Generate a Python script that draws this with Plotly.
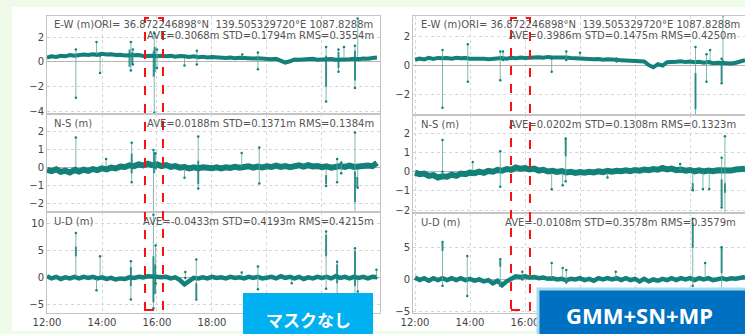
import plotly.graph_objects as go

W, H = 745, 334

# ---------------- data (hours of day, metres) ----------------
time_h = [12 + i / 6 for i in range(73)]  # 10-minute sampling 12:00-24:00

ew_left = [0.35,0.45,0.40,0.50,0.45,0.55,0.50, 0.55,0.60,0.55,0.62,0.58,0.65,
           0.60,0.62,0.55,0.58,0.52,0.55, 0.50,0.55,0.48,0.52,0.50,0.45,
           0.50,0.45,0.50,0.42,0.48,0.45, 0.40,0.45,0.38,0.42,0.35,0.40,
           0.35,0.38,0.32,0.36,0.30,0.34, 0.30,0.33,0.28,0.30,0.25,0.28,
           0.22,0.25,0.10,-0.05,0.05,0.20, 0.18,0.22,0.20,0.25,0.18,0.22,
           0.20,0.24,0.18,0.22,0.26,0.22, 0.25,0.22,0.28,0.25,0.32,0.35]
ew_right = [0.42,0.50,0.45,0.55,0.48,0.55,0.52, 0.55,0.50,0.56,0.52,0.55,0.50,
            0.52,0.48,0.50,0.46,0.50,0.52, 0.55,0.50,0.56,0.52,0.58,0.55,
            0.58,0.55,0.60,0.56,0.62,0.58, 0.60,0.56,0.58,0.55,0.52,0.55,
            0.50,0.48,0.45,0.48,0.42,0.45, 0.40,0.42,0.38,0.36,0.32,0.35,
            0.28,0.30,0.05,-0.10,0.12,0.02, 0.25,0.30,0.28,0.32,0.26,0.30,
            0.25,0.28,0.22,0.26,0.18,0.22, 0.18,0.20,0.16,0.22,0.30,0.40]
ns_left = [-0.10,-0.18,-0.08,-0.22,-0.15,-0.25,-0.12, -0.20,-0.10,-0.16,-0.06,-0.12,-0.02,
           -0.08,0.02,-0.03,0.08,0.05,0.15, 0.10,0.20,0.14,0.24,0.15,0.20,
           0.10,0.16,0.06,0.10,0.02,0.05, -0.02,0.04,-0.03,0.04,0.00,-0.02,
           0.04,-0.02,0.04,0.00,0.06,0.01, 0.05,0.09,0.02,0.08,0.03,0.09,
           0.05,0.13,0.06,0.11,0.04,0.10, 0.14,0.07,0.15,0.08,0.11,0.04,
           0.09,0.02,0.08,0.11,0.06,0.13, 0.06,0.11,0.08,0.13,0.10,0.28]
ns_right = [-0.05,-0.13,-0.10,-0.22,-0.18,-0.30,-0.24, -0.26,-0.15,-0.22,-0.10,-0.13,-0.05,
            -0.08,0.00,-0.06,0.04,0.00,0.09, 0.05,0.14,0.10,0.22,0.15,0.19,
            0.12,0.16,0.06,0.10,0.01,0.05, -0.01,0.03,-0.04,0.00,-0.06,-0.02,
            -0.05,0.00,-0.04,0.02,-0.02,0.04, 0.00,0.05,0.02,0.07,0.03,0.09,
            0.05,0.11,0.08,0.14,0.10,0.20, 0.12,0.16,0.08,0.11,0.05,0.09,
            0.02,0.07,0.01,0.06,0.02,0.07, 0.05,0.09,0.06,0.11,0.10,0.15]
ud_left = [0.3,-0.1,0.2,-0.2,0.1,-0.1,0.2, -0.1,0.2,0.0,0.2,-0.1,0.1,
           -0.2,0.0,-0.3,-0.1,-0.2,0.1, 0.0,0.2,0.1,0.3,0.2,0.3,
           0.1,0.2,-0.1,0.1,-0.4,-1.2, -0.6,0.0,-0.1,0.1,-0.1,0.2,
           0.0,0.1,-0.1,0.2,0.0,0.1, -0.1,0.2,0.0,0.2,-0.1,0.1,
           0.2,-0.1,0.3,0.0,0.2,-0.1, 0.2,-0.2,0.1,-0.1,0.2,0.0,
           0.2,-0.1,0.3,0.0,0.2,-0.1, 0.2,0.0,0.2,-0.1,0.2,0.1]
ud_right = [0.3,-0.1,0.2,-0.2,0.2,-0.1,0.2, -0.1,0.2,-0.1,0.2,-0.1,0.1,
            -0.2,0.0,-0.3,-0.1,-0.6,-0.2, -0.9,-0.3,0.2,0.5,0.4,0.5,
            0.3,0.4,0.2,0.3,0.1,0.2, 0.0,0.1,-0.1,0.1,0.0,0.2,
            -0.1,0.1,-0.2,0.2,0.0,0.2, 0.0,0.2,-0.1,0.2,-0.1,0.1,
            -0.3,0.1,-0.3,0.0,-0.2,0.1, -0.1,0.2,-0.1,0.2,0.0,0.2,
            -0.1,0.2,0.0,0.2,-0.1,0.1, 0.2,0.0,0.2,0.1,0.3,0.4]

# outlier spikes: (time, low, high)
ew_left_spk = [(13.05,-2.9,1.0),(13.8,0.5,1.6),(13.93,-0.9,0.5),(15.05,-0.7,1.6),(15.12,-0.2,1.0),
               (15.9,-4.1,2.3),(16.0,-0.5,1.0),(17.0,-0.3,0.4),(17.45,-0.2,0.9),(19.1,0.3,0.6),
               (19.67,-0.6,0.75),(22.15,-3.2,1.2),(22.6,-0.8,1.0),(22.8,0.2,1.2),(23.2,-2.1,1.3),(23.3,0.3,3.5)]
ew_left_cl = [(15.0,-0.4,1.0),(15.1,-0.2,0.8),(15.88,-1.2,0.9),(15.92,-0.8,1.2),(22.15,-2.0,0.5),
              (22.6,-0.5,0.8),(23.2,-1.5,0.9)]
ew_right_spk = [(13.0,-2.9,1.1),(13.92,-1.1,1.5),(15.1,-1.0,1.0),(15.2,0.4,1.0),(16.97,-0.4,0.5),
                (17.5,0.4,1.0),(18.0,0.5,0.9),(19.33,0.3,0.5),(22.2,-3.4,1.3),(22.6,-1.1,0.8),
                (22.73,0.3,1.1),(23.15,-1.2,0.5),(23.2,0.3,3.5)]
ew_right_cl = [(22.2,-3.0,-0.5),(23.15,-1.1,0.3)]
ns_left_spk = [(13.05,0.0,1.7),(14.15,0.0,0.5),(15.08,-0.8,1.4),(15.87,-2.6,1.0),(15.95,0.0,0.8),
               (17.0,-0.55,0.0),(17.5,-1.15,1.75),(19.08,0.0,0.83),(19.72,-0.87,1.14),(22.15,-1.0,0.0),
               (22.55,-0.8,0.5),(22.7,-0.3,0.3),(23.2,-2.5,1.97),(23.3,-1.1,0.0)]
ns_left_cl = [(15.08,-0.3,0.8),(15.9,-0.3,0.9),(17.5,-0.9,0.4),(22.15,-0.9,-0.4),(23.2,-1.9,-0.2),
              (23.28,-1.1,-0.5)]
ns_right_spk = [(13.0,0.0,1.65),(14.1,0.0,0.5),(15.1,-0.78,1.07),(16.97,-0.92,0.0),(17.37,-0.7,0.0),
                (17.48,-0.5,1.73),(19.0,-0.3,0.0),(21.64,0.0,0.4),(22.1,-0.97,0.0),(22.47,-0.9,0.0),
                (22.7,-0.9,0.0),(23.15,-1.87,0.73),(23.27,-2.2,1.85)]
ns_right_cl = [(17.48,0.8,1.7),(22.1,-1.0,-0.6),(23.15,-1.8,-0.4),(23.27,-1.1,-0.6)]
ud_left_spk = [(13.05,0.0,8.3),(13.8,-2.3,0.0),(13.93,0.0,4.0),(15.05,-4.0,3.1),(15.87,-5.6,11.7),
               (15.95,-1.0,6.0),(17.03,0.0,1.1),(17.43,-4.0,3.4),(19.08,0.0,1.0),(19.67,-2.1,2.1),
               (20.9,-1.0,0.0),(22.15,-2.0,8.6),(22.55,-3.4,3.0),(23.2,-4.0,5.5),(23.3,-2.5,0.0),
               (23.98,0.0,1.5)]
ud_left_cl = [(13.05,4.0,5.8),(15.05,-1.5,2.0),(15.87,-4.5,4.0),(15.93,-3.0,2.5),(17.43,-3.8,-1.0),
              (22.15,4.0,8.0),(22.55,-1.0,2.5),(23.2,-1.5,5.0)]
ud_right_spk = [(13.0,-1.0,5.9),(13.9,-2.6,3.7),(15.1,-1.0,3.2),(15.9,0.0,1.2),(16.97,0.0,2.6),
                (17.37,0.0,1.8),(17.5,-0.5,1.5),(19.3,0.0,1.2),(22.1,-1.0,9.6),(22.55,0.0,2.6),
                (23.15,-2.0,5.1)]
ud_right_cl = [(13.0,4.5,5.8),(15.1,2.0,3.0),(22.1,5.0,9.0),(23.15,1.0,5.0)]

x_ticks = [12, 14, 16, 18, 20, 22]
x_tick_text_left = ["12:00", "14:00", "16:00", "18:00", "", ""]
x_tick_text_right = ["12:00", "14:00", "16:00", "", "", ""]

ORI_TEXT = "ORI= 36.872246898°N\u00a0 139.505329720°E 1087.8288m"
stats_left = ["AVE=0.3068m STD=0.1794m RMS=0.3554m",
              "AVE=0.0188m STD=0.1371m RMS=0.1384m",
              "AVE=-0.0433m STD=0.4193m RMS=0.4215m"]
stats_right = ["AVE=0.3986m STD=0.1475m RMS=0.4250m",
               "AVE=0.0202m STD=0.1308m RMS=0.1323m",
               "AVE=-0.0108m STD=0.3578m RMS=0.3579m"]
comp_names = ["E-W (m)", "N-S (m)", "U-D (m)"]

# ---------------- layout helpers ----------------
def px(x):
    return x / W

def py(y):
    return 1 - y / H

TEAL = "#13807a"
FONT = "DejaVu Sans"
BAND_W = [4.0, 6.0, 4.5]

panels = [
    dict(series=[ew_left, ns_left, ud_left],
         spikes=[ew_left_spk, ns_left_spk, ud_left_spk],
         clusters=[ew_left_cl, ns_left_cl, ud_left_cl],
         xdom=[px(47), px(380)], xrange=[12, 24.11], ticktext=x_tick_text_left,
         ydoms=[(16, 114), (114, 212), (212, 313)],
         yranges=[[-4.2, 3.7], [-2.45, 3.0], [-6.5, 12.2]],
         yticks=[[-4, -2, 0, 2], [-2, -1, 0, 1, 2], [-5, 0, 5, 10]],
         stats=stats_left, lx=52, rx=378),
    dict(series=[ew_right, ns_right, ud_right],
         spikes=[ew_right_spk, ns_right_spk, ud_right_spk],
         clusters=[ew_right_cl, ns_right_cl, ud_right_cl],
         xdom=[px(413), 1.0], xrange=[11.927, 24.0], ticktext=x_tick_text_right,
         ydoms=[(16, 115), (115, 213), (213, 313)],
         yranges=[[-3.4, 3.45], [-2.15, 2.95], [-5.3, 10.5]],
         yticks=[[-2, 0, 2], [-2, -1, 0, 1, 2], [-5, 0, 5]],
         stats=stats_right, lx=419, rx=740),
]

fig = go.Figure()
layout = dict(
    width=W, height=H, margin=dict(l=0, r=0, t=0, b=0, pad=0, autoexpand=False),
    paper_bgcolor="#eefbe9", plot_bgcolor="white", showlegend=False,
    font=dict(family=FONT, size=10, color="#444"),
)
annotations = []
shapes = [
    dict(type="rect", xref="paper", yref="paper", x0=px(12), x1=1.0, y0=py(331), y1=py(7),
         fillcolor="white", line=dict(width=0), layer="below"),
]

k = 0
for p in panels:
    for j in range(3):
        k += 1
        xa = "x" if k == 1 else f"x{k}"
        ya = "y" if k == 1 else f"y{k}"
        # baseline band
        fig.add_trace(go.Scatter(x=time_h, y=p["series"][j], mode="lines", xaxis=xa, yaxis=ya,
                                 line=dict(color=TEAL, width=BAND_W[j]), hoverinfo="skip"))
        # spikes
        sx, sy = [], []
        for t, lo, hi in p["spikes"][j]:
            sx += [t, t, None]
            sy += [lo, hi, None]
        fig.add_trace(go.Scatter(x=sx, y=sy, mode="lines+markers", xaxis=xa, yaxis=ya,
                                 line=dict(color="#5aa8a0", width=0.8),
                                 marker=dict(size=2.5, color=TEAL), hoverinfo="skip"))
        cx, cy = [], []
        for t, lo, hi in p["clusters"][j]:
            cx += [t, t, None]
            cy += [lo, hi, None]
        fig.add_trace(go.Scatter(x=cx, y=cy, mode="lines", xaxis=xa, yaxis=ya,
                                 line=dict(color=TEAL, width=2), opacity=0.8, hoverinfo="skip"))

        top, bot = p["ydoms"][j]
        xkey = "xaxis" if k == 1 else f"xaxis{k}"
        ykey = "yaxis" if k == 1 else f"yaxis{k}"
        layout[xkey] = dict(domain=p["xdom"], range=p["xrange"], anchor=ya, automargin=False,
                            tickvals=x_ticks, ticktext=p["ticktext"],
                            showticklabels=(j == 2), ticks="", showline=True, mirror=True,
                            linecolor="#c4c4c4", linewidth=1, showgrid=True,
                            gridcolor="#d6d6d6", griddash="dot", zeroline=False,
                            tickfont=dict(size=10, color="#444"))
        layout[ykey] = dict(domain=[py(bot), py(top)], range=p["yranges"][j], anchor=xa,
                            automargin=False,
                            tickvals=p["yticks"][j], ticks="", showline=True, mirror=True,
                            linecolor="#c4c4c4", linewidth=1, showgrid=True,
                            gridcolor="#d6d6d6", griddash="dot", zeroline=True,
                            zerolinecolor="#b4b4b4", zerolinewidth=1,
                            tickfont=dict(size=10, color="#444"))
        # text labels
        ytxt = top + 9
        label = comp_names[j] + (ORI_TEXT if j == 0 else "")
        annotations.append(dict(xref="paper", yref="paper", x=px(p["lx"]), y=py(ytxt),
                                xanchor="left", yanchor="middle", showarrow=False,
                                text=label, font=dict(size=10, color="#555", family=FONT)))
        ystat = top + 20 if j == 0 else ytxt
        annotations.append(dict(xref="paper", yref="paper", x=px(p["rx"] - 2), y=py(ystat),
                                xanchor="right", yanchor="middle", showarrow=False,
                                text=p["stats"][j], font=dict(size=10, color="#555", family=FONT)))

# red dashed highlight boxes
for x0, x1 in [(145, 163), (511, 530)]:
    shapes.append(dict(type="rect", xref="paper", yref="paper", x0=px(x0), x1=px(x1),
                       y0=py(310), y1=py(18), line=dict(color="#ff1010", width=2, dash="dash"),
                       fillcolor="rgba(0,0,0,0)", layer="above"))

# label boxes
shapes.append(dict(type="rect", xref="paper", yref="paper", x0=px(243), x1=px(373),
                   y0=py(336), y1=py(293), fillcolor="#00b0f0", line=dict(width=0), layer="above"))
shapes.append(dict(type="rect", xref="paper", yref="paper", x0=px(538), x1=px(747),
                   y0=py(336), y1=py(289), fillcolor="#0070c0",
                   line=dict(color="#a9dcea", width=3), layer="above"))
annotations.append(dict(xref="paper", yref="paper", x=px(308), y=py(319), xanchor="center",
                        yanchor="middle", showarrow=False, text="<b>マスクなし</b>",
                        font=dict(size=17, color="white", family="Noto Sans CJK JP")))
annotations.append(dict(xref="paper", yref="paper", x=px(639), y=py(315), xanchor="center",
                        yanchor="middle", showarrow=False, text="<b>GMM+SN+MP</b>",
                        font=dict(size=22, color="white", family="Noto Sans")))

layout["annotations"] = annotations
layout["shapes"] = shapes
fig.update_layout(**layout)
fig.write_html(
    "out.html",
    config={"displayModeBar": False, "responsive": False},
    post_script="document.body.style.margin='0';document.body.style.overflow='hidden';"
                "document.body.style.background='#eefbe9';",
)
